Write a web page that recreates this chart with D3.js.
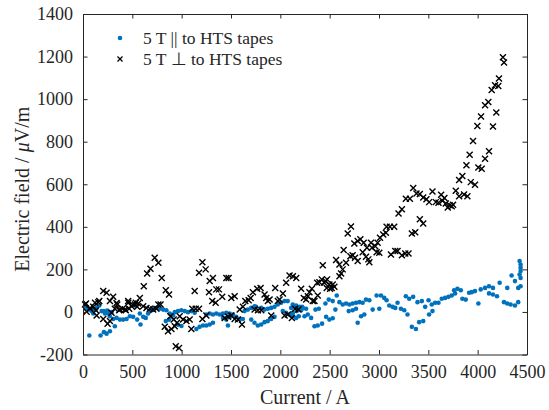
<!DOCTYPE html>
<html>
<head>
<meta charset="utf-8">
<script src="https://cdn.jsdelivr.net/npm/d3@7"></script>
<style>
  html, body { margin: 0; padding: 0; background: #fff; }
  svg { display: block; }
  svg text { font-family: "Liberation Serif", "Times New Roman", serif !important; fill: #262626; }
</style>
</head>
<body>
<svg id="chart" width="549" height="410"></svg>
<script>
// ---- Data ----
const xTicks = [0, 500, 1000, 1500, 2000, 2500, 3000, 3500, 4000, 4500];
const yTicks = [-200, 0, 200, 400, 600, 800, 1000, 1200, 1400];
const seriesNames = ["5 T || to HTS tapes", "5 T \u22A5 to HTS tapes"];

// 5 T parallel (blue dots): current (A) and electric field (uV/m)
const parCurrent = [
  64, 30, 64, 87, 104, 131, 165, 105, 138, 189, 223, 256, 290,
  178, 212, 239, 273, 323,
  212, 246, 273, 306, 340, 374, 407, 441, 475, 508, 549, 583,
  610, 636, 660, 684, 717, 751, 778, 812, 845, 879, 913, 576,
  839, 872, 964, 998,
  930, 963, 997, 1031, 1064, 1098, 1132,
  1149, 1182, 1216, 1250, 1284, 1317,
  1250, 1284, 1317, 1351, 1385, 1418, 1452, 1486, 1519,
  1469, 1418, 1452, 1492,
  1553, 1587, 1620,
  1637, 1671, 1705, 1738, 1755,
  1705, 1738, 1772, 1806, 1840, 1873, 1907, 1941,
  1806, 1840, 1873, 1907, 1941, 1974, 2008, 2042, 2075,
  2025, 2059, 2092, 2126, 2160,
  2126, 2160, 2193, 2227, 2261,
  2110, 2144, 2177, 2221, 2127, 2167, 2211,
  2245, 2278, 2312, 2187,
  2346, 2379, 2423, 2356, 2390,
  2464, 2497, 2531, 2457, 2491, 2531, 2572, 2558,
  2599, 2632, 2666, 2700, 2733, 2767, 2801, 2834,
  2693, 2733, 2767, 2784, 2818, 2851,
  2868, 2902, 2936,
  2976, 3020, 3053, 3077, 3003,
  3104, 3138, 3165, 3188, 3222, 3256, 3289,
  3272, 3306, 3346, 3333, 3374,
  3390, 3434, 3407, 3448,
  3468, 3502, 3535, 3569, 3603, 3508, 3542,
  3636, 3670, 3704, 3737, 3771, 3761, 3795, 3829,
  3845, 3879, 3913, 3940, 3973, 4007,
  4031, 4075, 4115, 4155, 4115, 4155, 4196, 4223,
  4267, 4300, 4334, 4378, 4411, 4300, 4344, 4378, 4411, 4435,
  4425, 4435, 4435, 4435, 4425, 4435
];
const parField = [
  -111, 19, 11, 4, -7, 11, 30, 11, 19, 4, -7, -7, -1,
  -111, -95, -102, -91, -67,
  4, 7, -20, -33, -28, -36, -36, -33, -20, -23, -36, -59,
  -23, -28, -7, 4, 15, 19, 15, 11, 8, -7, -17, -7,
  -43, -36, -60, -66,
  -1, 4, 8, 4, -1, 4, -4,
  -80, -70, -64, -64, -59, -51,
  -12, -7, -12, -7, -12, -7, -4, -7, -12,
  -64, -28, -36, -23,
  -23, -33, -33,
  4, 11, 19, 27, 24,
  -36, -51, -64, -59, -48, -43, -33, -23,
  19, 11, 15, 19, 24, 35, 43, 51, 51,
  4, -4, -12, -20, -28,
  35, 30, 24, 19, 15,
  19, 24, 19, 24, -4, 4, 8,
  -20, -12, -28, -20,
  -67, -64, -55, 11, 15,
  -23, -36, -30, 40, 58, 51, 77, 11,
  46, 35, 40, 35, 40, 43, 46, 43,
  4, 8, 15, -51, -20, -12,
  58, 55, 11,
  77, 77, 66, 55, 15,
  30, 24, 19, 43, 15, 8, -12,
  74, 62, 71, -70, -80,
  46, 51, -48, -43,
  24, 55, 35, 43, 43, -12, 4,
  62, 66, 71, 77, 87, 102, 109, 102,
  62, 58, 90, 93, 98, 40,
  106, 113, 121, 113, 87, 82, 74, 137,
  46, 40, 35, 30, 46, 113, 171, 145, 113, 121,
  239, 223, 208, 192, 176, 160
];

// 5 T perpendicular (black crosses)
const perpCurrent = [
  21, 30, 37, 70, 71, 104, 122, 131, 155, 165, 138,
  205, 239, 205, 249, 273,
  273, 306, 340, 347, 374, 425, 459, 492, 526, 560,
  289, 323, 367, 401, 434, 468, 458,
  502, 535, 576, 549, 610, 643, 677, 711, 744, 786,
  616, 650, 684, 727, 764, 798,
  764, 839, 872,
  829, 862, 896, 930,
  886, 919, 953,
  940, 973,
  980, 1014, 1048, 1081, 1098,
  1108, 1142, 1176,
  1132, 1176, 1210, 1243,
  1210, 1250,
  1284, 1317, 1277, 1310, 1344,
  1351, 1378, 1411,
  1453, 1476, 1503, 1537,
  1436, 1470, 1503, 1537,
  1571, 1611, 1588, 1621,
  1645, 1679, 1699, 1722,
  1739, 1773, 1807,
  1766, 1800,
  1840, 1857, 1874, 1891,
  1908, 1948, 1975, 1992,
  2026, 2059,
  2093, 2127, 2161,
  2043, 2076, 2117,
  2150, 2184,
  2211, 2238, 2262, 2279,
  2295, 2319, 2329, 2379,
  2346, 2373, 2396, 2420, 2430,
  2447, 2474, 2497, 2521, 2548,
  2457, 2470, 2504, 2531, 2632,
  2565, 2599, 2616, 2599,
  2642, 2666, 2683, 2716,
  2710, 2733, 2757, 2784,
  2750, 2784, 2811, 2845, 2878,
  2835, 2868, 2892, 2902, 2919,
  2929, 2962, 2986, 2976, 3003,
  3010, 3043, 3070,
  3077, 3111, 3154,
  3121, 3165, 3188, 3232, 3266, 3299,
  3333, 3367,
  3198, 3232, 3272, 3313, 3347,
  3380, 3414, 3448, 3481, 3508, 3542, 3576, 3603, 3630, 3643, 3663, 3677, 3697, 3717, 3737, 3751,
  3414, 3448,
  3778, 3812, 3862, 3896, 3812, 3845,
  3886, 3919, 3930, 3973, 3953, 3997, 4034,
  4007, 4041, 4075, 4115,
  4075, 4108, 4155, 4189,
  4142, 4176, 4209, 4216, 4256, 4267
];
const perpField = [
  35, 40, 1, 15, 19, 24, 43, 8, 46, 51, -17,
  98, 90, -33, -55, -43,
  51, 71, 42, 35, 11, 11, 43, 27, 35, 40,
  -4, 15, 8, 15, 8, 15, 51,
  35, 43, 66, 24, 27, 19, 15, 11, 15, 35,
  121, 181, 203, 255, 231, 160,
  35, 102, 82,
  -70, -91, -80, -67,
  -20, -36, -51,
  -161, -169,
  -20, -36, -43, -36, -80,
  15, 15, 15,
  98, 184, 234, 200,
  -33, -17,
  145, 160, 93, 51, 43,
  106, 106, 71,
  160, 160, 66, 74,
  -28, -23, -17, -33,
  -36, -59, 11, 24,
  51, 55, 66, 93,
  11, 8, 8,
  109, 113,
  82, 66, 51, 58,
  -17, 113, 51, 58,
  87, 137,
  171, 168, 160,
  -17, -12, -28,
  15, 11,
  109, 66, 58, 74,
  93, 109, 51, 77,
  51, 137, 140, 153, 219,
  137, 153, 129, 113, 118,
  145, 113, 109, 129, 200,
  244, 223, 181, 168,
  291, 231, 369, 402,
  262, 266, 255, 239,
  322, 333, 341, 325, 302,
  281, 259, 247, 234, 325,
  302, 309, 325, 281, 278,
  349, 364, 372,
  400, 400, 400,
  270, 286, 286, 266, 275, 275,
  369, 375,
  463, 482, 532, 532, 582,
  557, 554, 538, 529, 516, 566, 516, 513, 551, 522, 535, 510, 491, 501, 497, 504,
  435, 416,
  570, 544, 552, 544, 620, 639,
  689, 739, 610, 598, 803, 874, 918,
  679, 673, 720, 755,
  971, 987, 871, 937,
  1043, 1065, 1062, 1097, 1197, 1172
];

// ---- Layout ----
const W = 549, H = 410;
const plot = { left: 83, right: 527, top: 14, bottom: 354.5 };
const axisColor = "#262626";
const blue = "#0072BD";
const serif = "Liberation Serif, Times New Roman, serif";

const svg = d3.select("#chart");
const x = d3.scaleLinear().domain([0, 4500]).range([plot.left, plot.right]);
const y = d3.scaleLinear().domain([-200, 1400]).range([plot.bottom, plot.top]);

// Data marks
const parData = parCurrent.map((c, i) => ({ c, e: parField[i] }));
const perpData = perpCurrent.map((c, i) => ({ c, e: perpField[i] }));

const gData = svg.append("g");
gData.selectAll("circle.par").data(parData).enter().append("circle")
  .attr("class", "par")
  .attr("cx", d => x(d.c)).attr("cy", d => y(d.e))
  .attr("r", 2.3).attr("fill", blue);

const cross = 3;
const crossPath = `M${-cross},${-cross}L${cross},${cross}M${-cross},${cross}L${cross},${-cross}`;
gData.selectAll("path.perp").data(perpData).enter().append("path")
  .attr("class", "perp")
  .attr("transform", d => `translate(${x(d.c)},${y(d.e)})`)
  .attr("d", crossPath)
  .attr("stroke", "#000").attr("stroke-width", 1.4).attr("fill", "none");

// Axes (ticks inside, box)
const tickLen = 4.5;
const xAxisB = d3.axisBottom(x).tickValues(xTicks).tickSizeInner(-tickLen).tickSizeOuter(0).tickPadding(11).tickFormat(d3.format("d"));
const xAxisT = d3.axisTop(x).tickValues(xTicks).tickSizeInner(-tickLen).tickSizeOuter(0).tickFormat("");
const yAxisL = d3.axisLeft(y).tickValues(yTicks).tickSizeInner(-tickLen).tickSizeOuter(0).tickPadding(10).tickFormat(d => d < 0 ? "-" + Math.abs(d) : String(d));
const yAxisR = d3.axisRight(y).tickValues(yTicks).tickSizeInner(-tickLen).tickSizeOuter(0).tickFormat("");

function styleAxis(g) {
  g.attr("font-family", serif).attr("font-size", 18);
  g.select(".domain").attr("stroke", axisColor).attr("stroke-width", 1);
  g.selectAll(".tick line").attr("stroke", axisColor).attr("stroke-width", 1);
  g.selectAll(".tick text").attr("fill", axisColor).attr("font-family", serif).attr("font-size", 18);
}

svg.append("g").attr("transform", `translate(0,${plot.bottom})`).call(xAxisB).call(styleAxis);
svg.append("g").attr("transform", `translate(0,${plot.top})`).call(xAxisT).call(styleAxis);
svg.append("g").attr("transform", `translate(${plot.left},0)`).call(yAxisL).call(styleAxis);
svg.append("g").attr("transform", `translate(${plot.right},0)`).call(yAxisR).call(styleAxis);

// Axis labels
svg.append("text")
  .attr("x", (plot.left + plot.right) / 2).attr("y", 404)
  .attr("text-anchor", "middle").attr("font-family", serif).attr("font-size", 20)
  .text("Current / A");

const yl = svg.append("text")
  .attr("transform", `translate(29,${(plot.top + plot.bottom) / 2 + 5}) rotate(-90)`)
  .attr("text-anchor", "middle").attr("font-family", serif).attr("font-size", 20);
yl.append("tspan").text("Electric field / ");
yl.append("tspan").style("font-style", "italic").text("\u03BC");
yl.append("tspan").text("V/m");

// Legend
const legend = svg.append("g");
const legendRows = [
  { name: seriesNames[0], type: "dot", y: 38 },
  { name: seriesNames[1], type: "cross", y: 59 }
];
legendRows.forEach(r => {
  if (r.type === "dot") {
    legend.append("circle").attr("cx", 120).attr("cy", r.y).attr("r", 2.3).attr("fill", blue);
  } else {
    legend.append("path").attr("transform", `translate(120,${r.y})`)
      .attr("d", `M-2.5,-2.5L2.5,2.5M-2.5,2.5L2.5,-2.5`)
      .attr("stroke", "#000").attr("stroke-width", 1.3);
  }
  legend.append("text").attr("x", 143).attr("y", r.y + 6)
    .attr("font-family", serif).attr("font-size", 17.5).text(r.name);
});
</script>
</body>
</html>
